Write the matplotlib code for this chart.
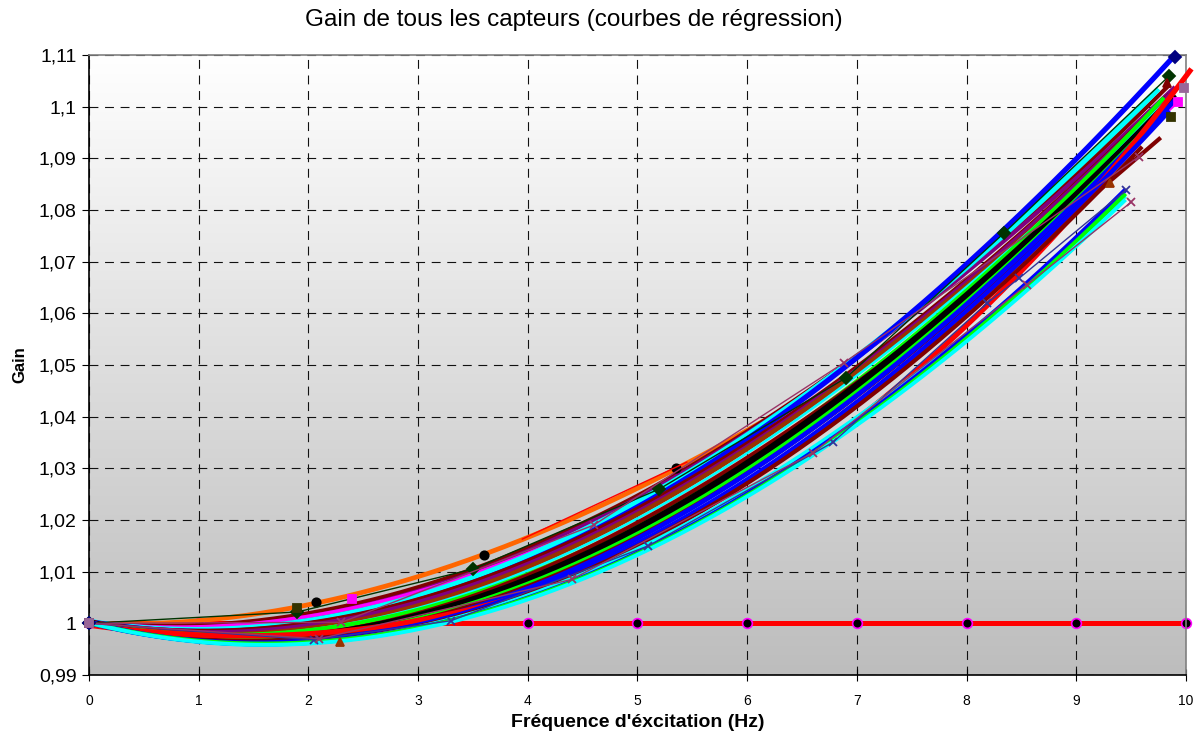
import numpy as np
import matplotlib
matplotlib.use("Agg")
import matplotlib.pyplot as plt
from matplotlib.colors import LinearSegmentedColormap
from matplotlib.ticker import FuncFormatter, MultipleLocator

plt.rcParams['font.family'] = ['Liberation Sans', 'DejaVu Sans']

# Mesures par capteur (fréquence en Hz, gain) -> une courbe de régression chacune
trend_colors = ['#FF6600', '#800000', '#800080', '#FF00FF', '#00FFFF', '#0000FF',
                '#800000', '#800080', '#993300', '#00FFFF', '#00FF00', '#800000',
                '#000000', '#000000', '#00FF00', '#800000', '#0000FF', '#FF0000',
                '#0000FF', '#800000', '#00FFFF', '#0000FF', '#00FF00', '#00FFFF']
trend_widths = [3.4, 3.0, 3.0, 2.6, 4.0, 3.8, 3.0, 3.0, 3.4, 1.8, 3.0, 3.0,
                3.6, 3.4, 3.0, 3.0, 3.4, 3.8, 3.4, 3.0, 3.0, 3.4, 3.0, 2.8]
trend_freqs = [
    [0, 2.07, 3.6, 5.35, 6.5],
    [0, 2, 5, 8, 9.85],
    [0, 2, 5, 8, 9.9],
    [0, 2, 5, 8, 9.93],
    [0, 2, 5, 8, 9.75],
    [0, 2, 5, 8, 9.9],
    [0, 2, 5, 8, 9.85],
    [0, 2, 5, 8, 9.9],
    [0, 2, 5, 8, 9.86],
    [0, 2, 5, 8, 9.9],
    [0, 2, 5, 8, 9.8],
    [0, 2, 5, 8, 9.77],
    [0, 2, 5, 8, 9.9],
    [0, 2, 5, 8, 9.85],
    [0, 2, 5, 8, 9.8],
    [0, 2, 5, 8, 9.75],
    [0, 2, 5, 8, 9.9],
    [0, 2, 5, 8.19, 10.05],
    [0, 2, 5, 8, 9.85],
    [0, 2, 5, 8, 9.6],
    [0, 2, 5, 8, 9.45],
    [0, 2, 5, 8, 9.45],
    [0, 2, 5, 8, 9.45],
    [0, 2, 5, 8, 9.45],
]
trend_gains = [
    [1, 1.0040, 1.0132, 1.0300, 1.0435],
    [1, 1.0025, 1.0240, 1.0690, 1.1040],
    [1, 1.0021, 1.0232, 1.0688, 1.1035],
    [1, 1.0019, 1.0226, 1.0660, 1.1009],
    [1, 1.0015, 1.0222, 1.0700, 1.1030],
    [1, 1.0008, 1.0213, 1.0705, 1.1096],
    [1, 1.0010, 1.0210, 1.0675, 1.1020],
    [1, 1.0005, 1.0205, 1.0670, 1.1030],
    [1, 1.0000, 1.0198, 1.0665, 1.1005],
    [1, 0.9996, 1.0192, 1.0660, 1.1025],
    [1, 0.9992, 1.0186, 1.0650, 1.1015],
    [1, 0.9989, 1.0180, 1.0640, 1.0935],
    [1, 0.9986, 1.0175, 1.0645, 1.1020],
    [1, 0.9983, 1.0170, 1.0635, 1.1000],
    [1, 0.9980, 1.0165, 1.0630, 1.0990],
    [1, 0.9977, 1.0160, 1.0620, 1.0970],
    [1, 0.9974, 1.0155, 1.0625, 1.1010],
    [1, 0.9970, 1.0150, 1.0606, 1.1077],
    [1, 0.9970, 1.0148, 1.0610, 1.0990],
    [1, 0.9968, 1.0143, 1.0600, 1.0920],
    [1, 0.9966, 1.0138, 1.0565, 1.0825],
    [1, 0.9965, 1.0133, 1.0560, 1.0838],
    [1, 0.9966, 1.0131, 1.0555, 1.0830],
    [1, 0.9964, 1.0128, 1.0550, 1.0818],
]

# Séries de points mesurés (traits fins + marqueurs)
pt_colors = ['#000000', '#003300', '#993366', '#333399', '#993366', '#993300',
             '#000080', '#FF00FF', '#333300', '#800000', '#996699', '#FF0000']
pt_markers = ['o', 'D', 'x', 'x', 'x', '^', 'D', 's', 's', '^', 's', 'None']
pt_lines = ['None', '-', '-', '-', '-', 'None', 'None', 'None', 'None', 'None', 'None', '-']
pt_freqs = [
    [0, 2.07, 3.6, 5.35],
    [0, 1.9, 3.5, 5.2, 6.9, 8.34, 9.85],
    [0, 2.3, 4.6, 6.88, 9.57],
    [0, 2.05, 3.3, 5.1, 6.78, 8.19, 8.48, 9.45],
    [0, 2.1, 4.4, 6.6, 8.55, 9.5],
    [0, 2.29, 9.31],
    [0, 9.9],
    [0, 2.4, 9.93],
    [0, 1.9, 9.86],
    [0, 9.83],
    [0, 9.98],
    [3.95, 5.45],
]
pt_gains = [
    [1, 1.0041, 1.0132, 1.0301],
    [1, 1.0022, 1.0105, 1.0260, 1.0475, 1.0755, 1.1060],
    [1, 1.0002, 1.0190, 1.0504, 1.0903],
    [1, 0.9968, 1.0005, 1.0150, 1.0350, 1.0620, 1.0668, 1.0838],
    [1, 0.9970, 1.0085, 1.0330, 1.0655, 1.0815],
    [1, 0.9964, 1.0852],
    [1, 1.1096],
    [1, 1.0048, 1.1009],
    [1, 1.0030, 1.0980],
    [1, 1.1045],
    [1, 1.1036],
    [1.0163, 1.0312],
]

# Référence (gain unitaire)
ref_freqs = [0, 1, 2, 3, 4, 5, 6, 7, 8, 9, 10]
ref_gains = [1, 1, 1, 1, 1, 1, 1, 1, 1, 1, 1]

fig = plt.figure(figsize=(11.96, 7.31), dpi=100)
ax = fig.add_axes([0.0744, 0.0766, 0.9172, 0.8482])

# fond dégradé
bg = LinearSegmentedColormap.from_list('bg', ['#bdbdbd', '#ffffff'])
ax.imshow(np.linspace(1, 0, 256).reshape(-1, 1), cmap=bg, aspect='auto',
          extent=[0, 10, 0.99, 1.11], zorder=0)

ax.plot(ref_freqs, ref_gains, color='#FF0000', lw=3.6, marker='o', ms=7,
        mfc='black', mec='#FF00FF', mew=1.2, zorder=2, clip_on=False)

for c, lw, f, g in zip(trend_colors, trend_widths, trend_freqs, trend_gains):
    coef = np.polyfit(f, g, 3)
    xs = np.linspace(0, f[-1], 200)
    ax.plot(xs, np.polyval(coef, xs), color=c, lw=lw, solid_capstyle='butt',
            zorder=3, clip_on=False)

for c, m, ls, f, g in zip(pt_colors, pt_markers, pt_lines, pt_freqs, pt_gains):
    ax.plot(f, g, color=c, marker=m, linestyle=ls, lw=1.0, ms=6, mew=1.3,
            zorder=4, clip_on=False)

ax.set_xlim(0, 10)
ax.set_ylim(0.99, 1.11)
ax.xaxis.set_major_locator(MultipleLocator(1))
ax.yaxis.set_major_locator(MultipleLocator(0.01))
ax.yaxis.set_major_formatter(FuncFormatter(
    lambda v, p: f"{v:.2f}".rstrip('0').rstrip('.').replace('.', ',')))
ax.grid(True, color='#111111', linestyle=(0, (8, 6)), linewidth=0.8, zorder=1)
ax.set_axisbelow(True)

ax.tick_params(axis='y', direction='out', length=5, labelsize=14, pad=4)
ax.tick_params(axis='x', direction='inout', length=8, labelsize=10, pad=10)
ax.spines['left'].set_color('black')
ax.spines['bottom'].set_color('black')
ax.spines['top'].set_color('#808080')
ax.spines['right'].set_color('#808080')
for s in ax.spines.values():
    s.set_linewidth(1.2)

ax.set_xlabel("Fréquence d'éxcitation (Hz)", fontsize=14, fontweight='bold', labelpad=4)
ax.set_ylabel("Gain", fontsize=12, fontweight='bold', labelpad=8)
fig.text(0.48, 0.972, "Gain de tous les capteurs (courbes de régression)",
         ha='center', va='center', fontsize=17.5)

fig.savefig("out.png", dpi=100)
